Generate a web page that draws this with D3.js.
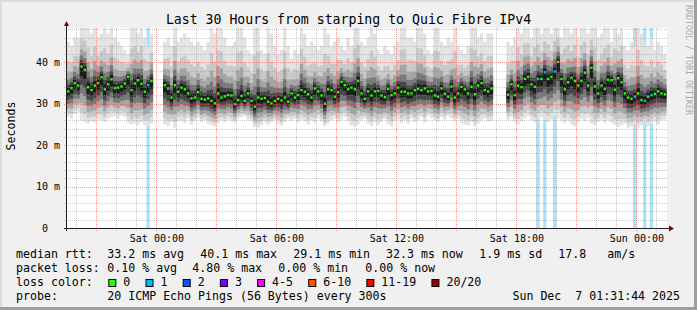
<!DOCTYPE html>
<html>
<head>
<meta charset="utf-8">
<script src="https://cdn.jsdelivr.net/npm/d3@7"></script>
<style>
  body { margin: 0; background: #f0f0f0; }
  svg text { font-family: "DejaVu Sans Mono", monospace; white-space: pre; }
</style>
</head>
<body>
<svg id="chart" width="697" height="310" xml:space="preserve"></svg>
<script>
// ---- data (10 minute columns from Fri 19:30) ----
var startTime = new Date(2025, 11, 5, 19, 30);
var stepMinutes = 10;

var medianMs = [
  33.0,33.8,35.0,34.4,39.0,38.2,34.0,33.3,34.4,35.0,
  36.4,33.5,34.7,35.9,33.8,33.9,34.2,34.9,36.5,33.3,
  34.9,35.7,34.8,32.9,34.5,35.5,null,null,null,34.5,
  33.7,31.5,34.5,32.9,33.9,33.5,32.5,31.3,31.5,32.8,
  31.2,31.0,31.3,30.7,30.1,32.5,31.5,31.8,32.1,32.0,
  29.9,30.9,31.9,30.7,32.5,30.7,29.3,31.5,31.2,31.4,
  30.5,30.1,30.7,31.2,30.8,31.5,30.5,32.5,31.5,32.1,
  33.3,32.9,32.3,31.5,33.7,33.0,32.0,30.0,33.5,33.3,
  31.7,32.8,35.3,34.5,33.5,33.9,33.5,35.5,32.5,31.2,
  33.0,32.0,33.0,33.1,32.0,31.6,33.6,32.1,32.5,33.9,
  32.9,32.9,32.5,32.5,33.3,33.6,33.3,33.7,33.0,33.1,
  32.0,31.7,33.7,32.4,31.7,34.2,31.5,32.5,34.1,33.5,
  32.5,34.1,32.3,34.4,35.0,33.3,33.0,33.7,null,null,
  null,null,32.2,34.7,32.1,34.4,34.0,36.0,36.5,34.7,
  34.1,36.0,36.0,37.6,36.0,36.5,37.8,40.1,36.0,33.5,
  35.2,36.3,35.5,34.4,35.5,37.5,34.4,38.7,34.2,32.5,
  34.4,33.6,35.8,35.7,33.4,36.2,35.2,32.5,31.5,31.2,
  31.7,32.5,30.9,30.7,31.7,32.1,32.4,33.0,32.5,32.3
];

var maxMs = [
  45,44,46,46,50,50,50,47,50,46,
  47,50,47,50,46,45,44,43,42,50,
  50,47,50,46,44,47,null,null,null,45,
  46,44,50,45,46,47,46,45,44,45,
  44,43,45,50,47,50,50,46,44,44,
  45,50,50,46,43,42,50,50,43,42,
  50,47,44,42,43,50,44,41,43,42,
  50,47,44,45,44,43,44,50,47,44,
  45,46,44,43,46,44,50,50,45,44,
  46,50,47,43,42,44,43,42,44,45,
  50,50,46,46,45,50,50,47,43,42,
  50,50,45,44,46,45,50,44,43,42,
  44,50,50,46,47,45,47,47,null,null,
  null,null,45,44,46,50,47,50,50,46,
  50,50,47,50,50,47,50,50,46,50,
  50,47,50,46,50,50,47,50,50,46,
  47,50,50,45,50,47,50,44,43,45,
  44,50,47,45,44,46,43,45,44,42
];

var minMs = [
  26.9,26.5,27.5,28.0,26.0,25.5,25.2,25.8,25.5,26.2,
  26.0,25.6,26.4,26.8,27.0,26.5,27.2,26.8,25.4,25.0,
  25.3,24.9,25.6,24.8,24.5,25.2,null,null,null,25.0,
  24.6,25.5,24.2,25.8,26.0,25.4,26.5,25.0,25.8,26.6,
  25.5,26.0,25.2,24.9,24.6,25.3,26.0,25.5,26.2,25.8,
  25.4,26.4,26.8,27.0,26.2,25.8,24.4,24.2,24.8,25.6,
  25.0,25.5,26.0,25.2,24.8,25.6,26.3,25.9,26.4,25.5,
  26.2,25.8,25.0,26.0,25.4,26.4,25.8,24.6,25.2,26.0,
  26.5,25.5,26.2,26.8,25.8,24.8,24.4,25.0,26.0,26.5,
  25.2,24.6,25.5,24.9,25.6,26.3,25.0,24.6,25.8,26.2,
  25.4,26.0,25.2,26.5,25.6,26.1,26.8,25.5,27.0,26.6,
  26.0,25.6,26.8,26.2,27.0,26.5,25.8,26.4,25.4,25.0,
  24.8,25.6,24.6,25.2,26.0,26.5,25.7,25.8,null,null,
  null,null,26.2,26.8,25.5,25.0,25.8,26.5,27.0,26.0,
  25.5,26.2,26.8,26.0,25.6,26.2,27.0,26.5,26.0,25.4,
  26.0,25.0,24.6,25.5,26.4,25.8,26.6,25.2,24.8,25.6,
  26.2,25.4,26.0,25.5,24.9,24.4,24.8,25.3,24.2,24.5,
  25.0,24.2,24.8,25.5,24.6,25.2,25.8,25.0,26.0,26.2
];

// columns where 1 of 20 pings was lost
var lossColumns = [24, 141, 143, 146, 170, 173, 175];

var yTicks = [0, 10, 20, 30, 40];
var yTickLabels = ["0  ", "10 m", "20 m", "30 m", "40 m"];

var titleText = "Last 30 Hours from starping to Quic Fibre IPv4";
var medianStats = ["33.2 ms avg", "40.1 ms max", "29.1 ms min", "32.3 ms now", "1.9 ms sd", "17.8", "am/s"];
var lossStats = ["0.10 % avg", "4.80 % max", "0.00 % min", "0.00 % now"];
var lossClasses = ["0", "1", "2", "3", "4-5", "6-10", "11-19", "20/20"];
var lossColors = ["#26ff00", "#00b8ff", "#0059ff", "#7e00ff", "#ff00ff", "#ff5500", "#ff0000", "#a10000"];
var probeText = "20 ICMP Echo Pings (56 Bytes) every 300s";
var stampText = "Sun Dec  7 01:31:44 2025";

// ---- layout ----
var plotL = 67, plotR = 667, plotT = 28, plotB = 228;
var medianStatX = [107.3, 200.3, 293.3, 386, 479.3, 558.3, 607.3];
var lossStatX = [107.3, 192.3, 278.3, 365.3];
var legendFont = 11.6, charW = 6.97;

var svg = d3.select("#chart");

svg.append("rect").attr("width", 697).attr("height", 310).attr("fill", "#f0f0f0");
// shaded frame
svg.append("path").attr("d", "M0,0H697V2H2V310H0Z").attr("fill", "#dcdcdc");
svg.append("path").attr("d", "M697,0V310H0V307H694V0Z").attr("fill", "#9e9e9e");

var x = d3.scaleTime()
  .domain([new Date(2025, 11, 5, 19, 31, 44), new Date(2025, 11, 7, 1, 31, 44)])
  .range([plotL, plotR]);
var y = d3.scaleLinear().domain([0, 48.3]).range([plotB, plotT]);

svg.append("rect").attr("x", plotL).attr("y", plotT)
  .attr("width", plotR - plotL).attr("height", plotB - plotT).attr("fill", "#ffffff");

svg.append("clipPath").attr("id", "plotclip")
  .append("rect").attr("x", plotL).attr("y", plotT)
  .attr("width", plotR - plotL).attr("height", plotB - plotT);

var plot = svg.append("g").attr("clip-path", "url(#plotclip)");

var cols = medianMs.map(function (m, i) {
  var t0 = d3.timeMinute.offset(startTime, i * stepMinutes);
  var t1 = d3.timeMinute.offset(startTime, (i + 1) * stepMinutes);
  return { i: i, t0: t0, t1: t1, med: m, hi: maxMs[i], lo: minMs[i],
           loss: lossColumns.indexOf(i) >= 0 };
});
var valid = cols.filter(function (d) { return d.med !== null; });

// loss background bars (full height)
plot.selectAll(".lossbar")
  .data(cols.filter(function (d) { return d.loss; }))
  .enter().append("rect")
  .attr("class", "lossbar")
  .attr("x", function (d) { return x(d.t0); })
  .attr("width", function (d) { return x(d.t1) - x(d.t0); })
  .attr("y", plotT).attr("height", plotB - plotT)
  .attr("fill", "#a8e3f8");

// smoke: graded grey bands between the fastest and slowest pings
var upFrac = [1, 0.6, 0.38, 0.24, 0.14, 0.07];
var downFrac = [1, 0.85, 0.68, 0.5, 0.34, 0.18];
var smokeColors = ["#e2e2e2", "#c8c8c8", "#a4a4a4", "#777777", "#474747", "#1a1a1a"];

smokeColors.forEach(function (c, k) {
  plot.selectAll(".smoke" + k)
    .data(valid)
    .enter().append("rect")
    .attr("class", "smoke" + k)
    .attr("x", function (d) { return x(d.t0); })
    .attr("width", function (d) { return x(d.t1) - x(d.t0); })
    .attr("y", function (d) { return y(d.med + (d.hi - d.med) * upFrac[k]); })
    .attr("height", function (d) {
      return y(d.med - (d.med - d.lo) * downFrac[k]) - y(d.med + (d.hi - d.med) * upFrac[k]);
    })
    .attr("fill", c);
});

// grid (semi-transparent, like rrdtool)
var minorGrid = "rgba(140,140,140,0.45)", majorGrid = "rgba(222,80,80,0.55)";
var hours = d3.timeHour.range(d3.timeHour.ceil(x.domain()[0]), x.domain()[1]);
var grid = svg.append("g");
hours.forEach(function (h) {
  var major = h.getHours() % 3 === 0;
  var gx = Math.round(x(h)) + 0.5;
  grid.append("line")
    .attr("x1", gx).attr("x2", gx).attr("y1", plotT).attr("y2", plotB + 3)
    .attr("stroke", major ? majorGrid : minorGrid)
    .attr("stroke-dasharray", "1,1");
});
d3.range(2, 49, 2).forEach(function (v) {
  var major = v % 10 === 0;
  var gy = Math.round(y(v)) + 0.5;
  grid.append("line")
    .attr("x1", plotL - 3).attr("x2", plotR).attr("y1", gy).attr("y2", gy)
    .attr("stroke", major ? majorGrid : minorGrid)
    .attr("stroke-dasharray", "1,1");
});

// median dots
plot.selectAll(".median")
  .data(valid)
  .enter().append("rect")
  .attr("class", "median")
  .attr("x", function (d) { return x(d.t0) + 0.6; })
  .attr("width", 2.3)
  .attr("y", function (d) { return y(d.med) - 1.2; })
  .attr("height", 2.4)
  .attr("fill", function (d) { return d.loss ? lossColors[1] : lossColors[0]; });

// axes lines + arrows
svg.append("line").attr("x1", plotL - 3).attr("x2", 670).attr("y1", plotB + 0.5).attr("y2", plotB + 0.5)
  .attr("stroke", "#1f1f1f");
svg.append("line").attr("x1", plotL - 0.5).attr("x2", plotL - 0.5).attr("y1", plotB + 3).attr("y2", 24)
  .attr("stroke", "#1f1f1f");
svg.append("path").attr("d", "M64,26L66.5,21L69,26Z").attr("fill", "#7f0000");
svg.append("path").attr("d", "M669,225.5L674,228.5L669,231.5Z").attr("fill", "#7f0000");

// tick labels through d3 axes
var yAxis = svg.append("g")
  .attr("transform", "translate(" + plotL + ",0)")
  .call(d3.axisLeft(y).tickValues(yTicks).tickSize(0).tickPadding(7)
    .tickFormat(function (d, i) { return yTickLabels[i]; }));
yAxis.select(".domain").remove();
yAxis.selectAll("text").attr("font-family", "DejaVu Sans Mono").attr("font-size", 10).attr("fill", "#000");

var xAxis = svg.append("g")
  .attr("transform", "translate(0," + plotB + ")")
  .call(d3.axisBottom(x).ticks(d3.timeHour.every(6)).tickSize(0).tickPadding(7)
    .tickFormat(d3.timeFormat("%a %H:%M")));
xAxis.select(".domain").remove();
xAxis.selectAll("text").attr("font-family", "DejaVu Sans Mono").attr("font-size", 10).attr("fill", "#000");

// title and side labels
svg.append("text").attr("x", 348.5).attr("y", 24).attr("text-anchor", "middle")
  .attr("font-size", 13.2).text(titleText);
svg.append("text").attr("transform", "translate(15,126) rotate(-90)")
  .attr("text-anchor", "middle").attr("font-size", 11.6).text("Seconds");
svg.append("text").attr("transform", "translate(686,60) rotate(90)")
  .attr("text-anchor", "middle").attr("font-size", 8.3).attr("fill", "#aaaaaa")
  .text("RRDTOOL / TOBI OETIKER");

// legend
var leg = svg.append("g").attr("font-size", legendFont);
leg.append("text").attr("x", 16).attr("y", 258).text("median rtt:");
medianStats.forEach(function (s, i) {
  leg.append("text").attr("x", medianStatX[i]).attr("y", 258).text(s);
});
leg.append("text").attr("x", 16).attr("y", 272).text("packet loss:");
lossStats.forEach(function (s, i) {
  leg.append("text").attr("x", lossStatX[i]).attr("y", 272).text(s);
});
leg.append("text").attr("x", 16).attr("y", 286).text("loss color:");
var bx = 108.3;
lossClasses.forEach(function (s, i) {
  leg.append("rect").attr("x", bx + 0.5).attr("y", 279.5).attr("width", 7).attr("height", 7)
    .attr("fill", lossColors[i]).attr("stroke", "#000");
  leg.append("text").attr("x", bx + 15).attr("y", 286).text(s);
  bx += 37.2 + (s.length - 1) * charW;
});
leg.append("text").attr("x", 16).attr("y", 300).text("probe:");
leg.append("text").attr("x", 107.3).attr("y", 300).text(probeText);
leg.append("text").attr("x", 680).attr("y", 300).attr("text-anchor", "end").text(stampText);
</script>
</body>
</html>
